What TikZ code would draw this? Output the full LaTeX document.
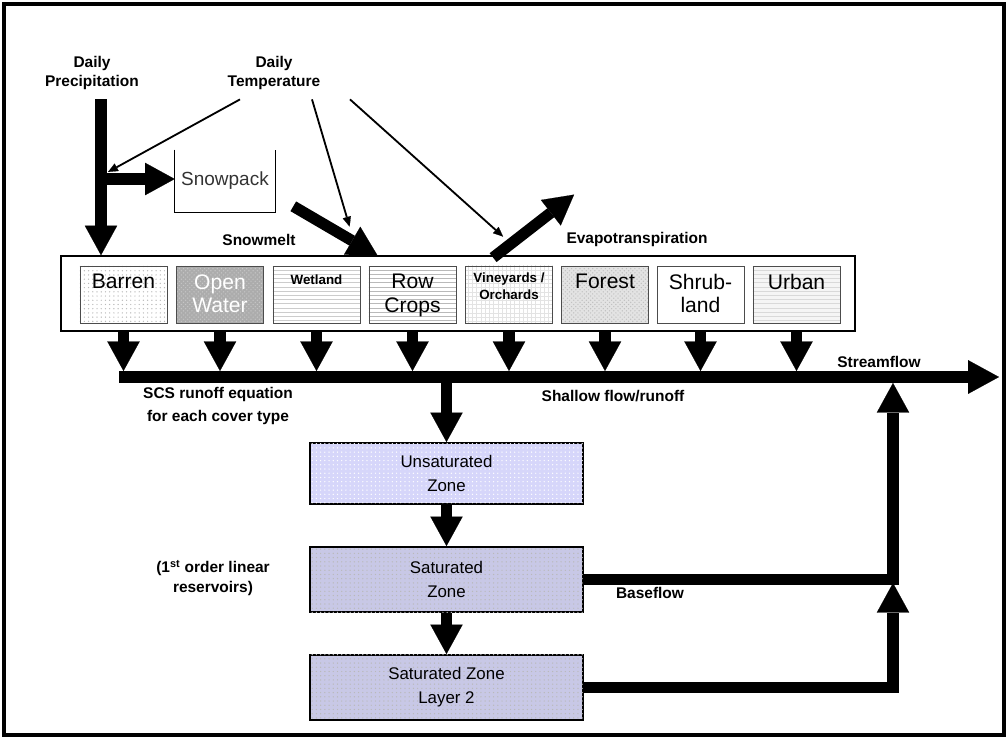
\documentclass[tikz,border=0pt]{standalone}
\usepackage{fontspec}
\setmainfont{Liberation Sans}
\usetikzlibrary{arrows.meta, positioning, calc, patterns}

\definecolor{zonelight}{HTML}{D6D6FA}
\definecolor{zonedark}{HTML}{C8C8E6}

\tikzset{
  lbl/.style={font=\bfseries\fontsize{11}{13.5}\selectfont, align=center, inner sep=1pt},
  bigflow/.style={line width=8pt, -{Triangle[width=23pt,length=21pt,line width=0.1pt]}},
  thinflow/.style={line width=1.3pt, -{Triangle[width=6pt,length=7pt,line width=0.1pt]}},
  cover/.style={draw=black!70, minimum width=2.18cm, minimum height=1.43cm, inner sep=0pt},
  bigtxt/.style={font=\fontsize{15}{16.5}\selectfont, align=center, inner sep=0pt},
  smalltxt/.style={font=\bfseries\fontsize{9.5}{12}\selectfont, align=center, inner sep=0pt},
  zone/.style={draw, line width=1.2pt, minimum width=6.83cm, minimum height=1.63cm,
    align=center, font=\fontsize{12}{17}\selectfont},
}

\begin{document}
\begin{tikzpicture}[x=0.025cm, y=-0.025cm]
\useasboundingbox (0,0) rectangle (1008,739);
\draw[line width=2.8pt] (4,4) rectangle (1004,735);

% inputs
\node[lbl] (prec) at (92,73) {Daily\\Precipitation};
\node[lbl] (temp) at (274,73) {Daily\\Temperature};

% snowpack bucket
\node[minimum width=2.5cm, minimum height=1.55cm, font=\fontsize{13.5}{15}\selectfont, text=black!80] (snow) at (225,181) {Snowpack};
\draw[line width=1pt] (snow.north west) -- (snow.south west) -- (snow.south east) -- (snow.north east);

% land cover types
\node[draw, line width=1.1pt, minimum width=19.85cm, minimum height=1.875cm] (land) at (458,293.5) {};
\node[cover, pattern=dots, pattern color=gray!55] (barren) at (123.5,294.5) {};
\node[cover, preaction={fill=gray!65}, pattern=crosshatch dots, pattern color=gray!45] (water) at (220,294.5) {};
\node[cover, pattern=horizontal lines, pattern color=gray!40] (wet) at (316.5,294.5) {};
\node[cover, pattern=horizontal lines, pattern color=gray!55] (row) at (412.5,294.5) {};
\node[cover, pattern=grid, pattern color=gray!22] (vine) at (509,294.5) {};
\node[cover, preaction={fill=gray!22}, pattern=crosshatch dots, pattern color=gray!50] (forest) at (605,294.5) {};
\node[cover] (shrub) at (700.5,294.5) {};
\node[cover, preaction={fill=gray!8}, pattern=horizontal lines, pattern color=gray!30] (urban) at (796.5,294.5) {};

\node[bigtxt, below=6pt of barren.north] {Barren};
\node[bigtxt, text=white, below=6pt of water.north] {Open\\Water};
\node[smalltxt, below=6pt of wet.north] {Wetland};
\node[bigtxt, below=6pt of row.north] {Row\\Crops};
\node[smalltxt, below=5pt of vine.north] {Vineyards /\\Orchards};
\node[bigtxt, below=6pt of forest.north] {Forest};
\node[bigtxt, below=6pt of shrub.north] {Shrub-\\land};
\node[bigtxt, below=6pt of urban.north] {Urban};

% subsurface zones
\node[zone, minimum height=1.53cm, fill=zonelight, postaction={pattern=dots, pattern color=white}] (unsat) at (446.5,473.5) {Unsaturated\\Zone};
\node[zone, fill=zonedark, postaction={pattern=dots, pattern color=gray!55}] (sat) at (446.5,579.5) {Saturated\\Zone};
\node[zone, fill=zonedark, postaction={pattern=dots, pattern color=gray!55}] (lay2) at (446.5,687.5) {Saturated Zone\\Layer 2};

% labels
\node[lbl] (melt) at (259,240) {Snowmelt};
\node[lbl] (evap) at (637,239) {Evapotranspiration};
\node[lbl] (stream) at (879,362) {Streamflow};
\node[lbl, font=\bfseries\fontsize{11}{16}\selectfont] (scs) at (218,406) {SCS runoff equation\\for each cover type};
\node[lbl] (shallow) at (613,396) {Shallow flow/runoff};
\node[lbl, font=\bfseries\fontsize{11}{14}\selectfont] (resv) at (213,578) {(1\textsuperscript{st} order linear\\reservoirs)};
\node[lbl] (base) at (650,593) {Baseflow};

% flow coordinates
\coordinate (pj) at (101,179);
\coordinate (fleft) at (119,377);
\coordinate (fright) at (999,377);
\coordinate (ftop) at (0,371);
\coordinate (fbot) at (0,383);
\coordinate (bfin) at (893,383);
\coordinate (bfjoin) at (893,583);

% precipitation and snow
\draw[bigflow] ($(prec.south -| pj)+(0,8)$) -- (pj |- land.north);
\draw[bigflow] (pj) -- (snow.west |- pj);
\draw[bigflow] ($(snow.south east)+(18,-6)$) -- ($(row.north west)+(9,-10)$);
\draw[bigflow] ($(vine.north west)+(28,-8)$) -- ($(vine.north west)+(109,-71)$);

% temperature
\draw[thinflow] ($(temp.south)+(-34,8)$) -- ($(pj)+(7,-7)$);
\draw[thinflow] ($(temp.south)+(38,8)$) -- ($(row.north west)+(-19,-39)$);
\draw[thinflow] ($(temp.south)+(76,8)$) -- ($(vine.north west)+(38,-29)$);

% runoff to streamflow
\foreach \c in {barren,water,wet,row,vine,forest,shrub,urban}
  \draw[bigflow] (\c |- land.south) -- (\c |- ftop);
\draw[line width=8pt, -{Triangle[width=24pt,length=22pt,line width=0.1pt]}] (fleft) -- (fright);

% groundwater
\draw[bigflow] (unsat.north |- fbot) -- (unsat.north);
\draw[bigflow] (unsat.south) -- (sat.north);
\draw[bigflow] (sat.south) -- (lay2.north);
\draw[bigflow] (sat.east) -| (bfin);
\draw[bigflow] (lay2.east) -| (bfjoin);
\end{tikzpicture}
\end{document}
